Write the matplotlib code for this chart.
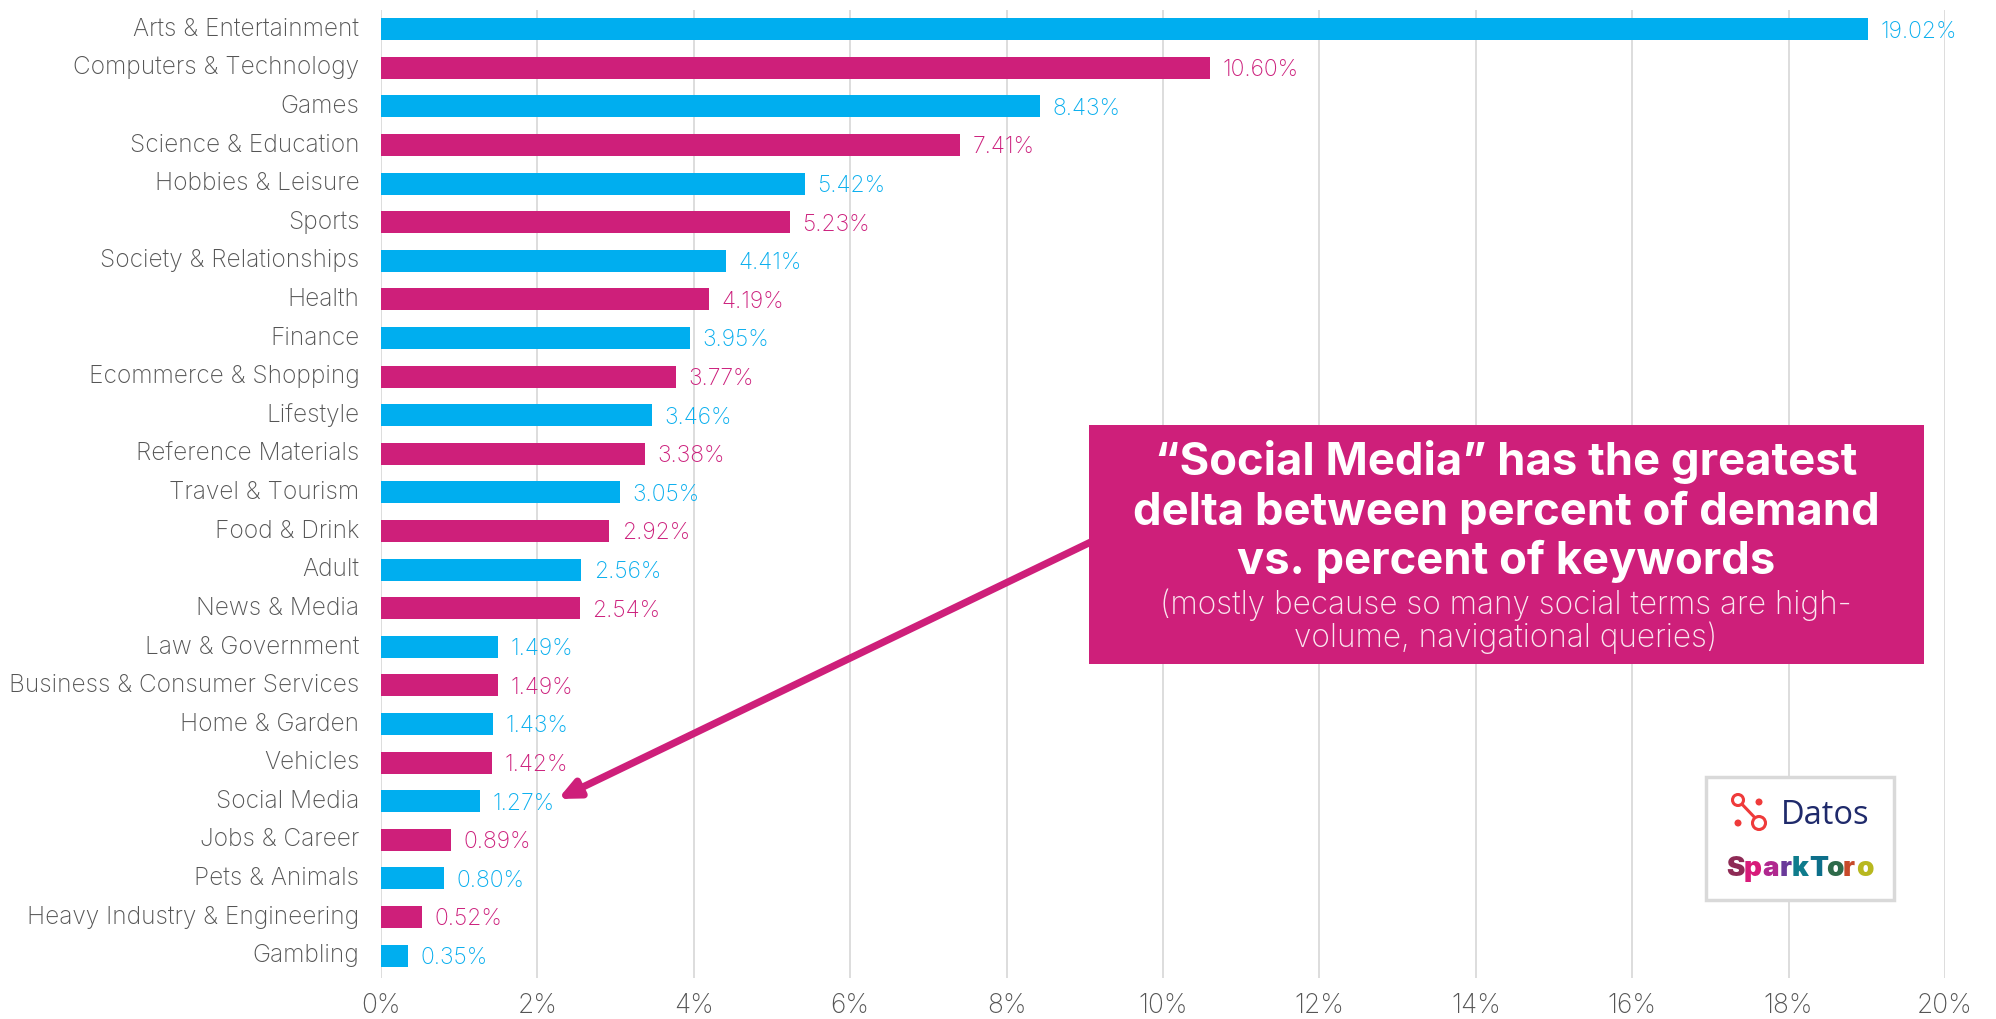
import matplotlib
matplotlib.use("Agg")
import matplotlib.pyplot as plt
from matplotlib.patches import Rectangle, Circle
from matplotlib.transforms import ScaledTranslation

plt.rcParams["font.family"] = ["Inter", "DejaVu Sans"]

BLUE = "#00AEEF"
PINK = "#CE1F7A"
BLUE_TEXT = "#08AEEE"
PINK_TEXT = "#CC1F7C"
GREY_TEXT = "#555555"
GRID = "#DADADA"

categories = [
    "Arts & Entertainment", "Computers & Technology", "Games",
    "Science & Education", "Hobbies & Leisure", "Sports",
    "Society & Relationships", "Health", "Finance", "Ecommerce & Shopping",
    "Lifestyle", "Reference Materials", "Travel & Tourism", "Food & Drink",
    "Adult", "News & Media", "Law & Government",
    "Business & Consumer Services", "Home & Garden", "Vehicles",
    "Social Media", "Jobs & Career", "Pets & Animals",
    "Heavy Industry & Engineering", "Gambling",
]
shares = [
    19.02, 10.60, 8.43, 7.41, 5.42, 5.23, 4.41, 4.19, 3.95, 3.77,
    3.46, 3.38, 3.05, 2.92, 2.56, 2.54, 1.49, 1.49, 1.43, 1.42,
    1.27, 0.89, 0.80, 0.52, 0.35,
]
x_ticks = [0, 2, 4, 6, 8, 10, 12, 14, 16, 18, 20]

W, H = 1996, 1020
fig = plt.figure(figsize=(W / 100, H / 100), dpi=100)
ax = fig.add_axes([381 / W, 1 - 979 / H, (1945 - 381) / W, (979 - 11) / H])

positions = list(range(len(categories)))
bar_colors = [BLUE if i % 2 == 0 else PINK for i in positions]
ax.barh(positions, shares, height=0.57, color=bar_colors, zorder=2)

for i, v in zip(positions, shares):
    ax.annotate(f"{v:.2f}%", (v, i), xytext=(9, -1), textcoords="offset points",
                va="center", ha="left", fontsize=16.5, fontweight="light",
                color=BLUE_TEXT if i % 2 == 0 else PINK_TEXT, zorder=3)

ax.set_xlim(0, 20)
ax.set_ylim(24.58, -0.5)
ax.set_yticks(positions)
ax.set_yticklabels(categories, fontsize=17.6, fontweight="light", color=GREY_TEXT)
ax.set_xticks(x_ticks)
ax.set_xticklabels([f"{t}%" for t in x_ticks], fontsize=19, fontweight="light",
                   color=GREY_TEXT)
ax.tick_params(axis="y", length=0, pad=15.5)
ax.tick_params(axis="x", length=0, pad=10)
ax.grid(axis="x", color=GRID, linewidth=1.3, zorder=0)
ax.set_axisbelow(True)
for side in ax.spines:
    ax.spines[side].set_visible(False)

# nudge category labels up a little relative to the bars
lift = ScaledTranslation(0, 2.5 / 72, fig.dpi_scale_trans)
for label in ax.get_yticklabels():
    label.set_transform(label.get_transform() + lift)

# overlay in pixel units for the callout and logos
over = fig.add_axes([0, 0, 1, 1], zorder=5)
over.set_xlim(0, W)
over.set_ylim(H, 0)
over.axis("off")
over.patch.set_alpha(0)

over.annotate("", xy=(558, 800), xytext=(1095, 541),
              arrowprops=dict(arrowstyle="-|>,head_length=1.2,head_width=0.55",
                              color=PINK, lw=5.2, shrinkA=0, shrinkB=0))
over.add_patch(Rectangle((1089, 426), 835, 239, facecolor=PINK, edgecolor="none"))
headline = ["\u201cSocial Media\u201d has the greatest",
            "delta between percent of demand",
            "vs. percent of keywords"]
for y, line in zip([462, 512, 561], headline):
    over.text(1506, y, line, ha="center", va="center", color="white",
              fontsize=32.7, fontweight="bold")
subline = ["(mostly because so many social terms are high-",
           "volume, navigational queries)"]
for y, line in zip([605, 638], subline):
    over.text(1506, y, line, ha="center", va="center", color="#FBE6F0",
              fontsize=22.7, fontweight="light")

# logo box
over.add_patch(Rectangle((1706, 778), 188, 123, facecolor="white",
                         edgecolor="#D9D9D9", linewidth=2.5))
over.plot([1738, 1759], [801, 823], color="#EF3B3B", lw=2.2, solid_capstyle="round")
over.add_patch(Circle((1738, 801), 5.5, facecolor="white", edgecolor="#EF3B3B", lw=2.2, zorder=3))
over.add_patch(Circle((1759, 824), 6.5, facecolor="white", edgecolor="#EF3B3B", lw=2.2, zorder=3))
over.add_patch(Circle((1759, 803), 3.5, facecolor="#EF3B3B", edgecolor="none"))
over.add_patch(Circle((1738, 824), 3.5, facecolor="#EF3B3B", edgecolor="none"))
over.text(1781, 816, "Datos", ha="left", va="center", color="#1F2A6B", fontsize=23.5,
          family=["Open Sans", "DejaVu Sans"])

spark_letters = "SparkToro"
spark_colors = ["#8E2A55", "#D81B7A", "#B0288F", "#6A3A9A", "#0F7C8C",
                "#0D6F8A", "#2E6B4A", "#C74A2A", "#B8B81F"]
spark_x = [1726, 1744, 1762, 1780, 1792, 1809, 1826, 1843, 1856]
for ch, c, x in zip(spark_letters, spark_colors, spark_x):
    over.text(x, 869, ch, ha="left", va="center", color=c, fontsize=20,
              fontweight="black")

fig.savefig("out.png", dpi=100)
